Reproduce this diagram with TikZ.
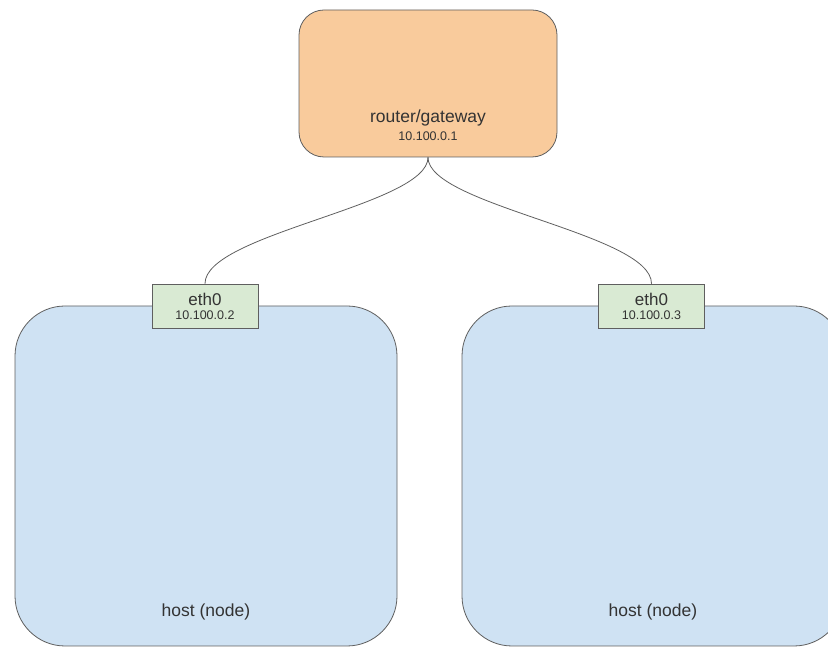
\documentclass[tikz,border=0pt]{standalone}
\usepackage{fontspec}
\setmainfont{Liberation Sans}
\usetikzlibrary{positioning, calc}
\definecolor{routerfill}{RGB}{249,203,156}
\definecolor{hostfill}{RGB}{207,226,243}
\definecolor{ifacefill}{RGB}{217,234,211}
\definecolor{edgegray}{RGB}{95,95,95}
\definecolor{textgray}{RGB}{51,51,51}

\begin{document}
\begin{tikzpicture}[x=1pt, y=1pt, line cap=round,
    hostbox/.style={draw=edgegray, fill=hostfill, line width=0.8pt, rounded corners=50pt,
        minimum width=382pt, minimum height=340pt, inner sep=0pt},
    ifacebox/.style={draw=edgegray, fill=ifacefill, line width=0.8pt, align=center,
        minimum width=106pt, minimum height=44pt, inner sep=0pt, text=textgray,
        font=\fontsize{17pt}{17pt}\selectfont},
    biglabel/.style={text=textgray, inner sep=0pt, font=\fontsize{17.5pt}{18pt}\selectfont},
    smalllabel/.style={text=textgray, inner sep=0pt, font=\fontsize{12.5pt}{13pt}\selectfont}]
        %\draw [step=10, very thin, lightgray] (0, 0) grid (828,647);
        \useasboundingbox (0, 0) rectangle (828, 647);
        \clip (0, 0) rectangle (828, 647);
        \node [draw=edgegray, fill=routerfill, line width=0.8pt, rounded corners=25pt,
            minimum width=258pt, minimum height=147pt] (router) at (428, 563.5) {};
        \node [biglabel] (routername) at (428, 529) {router/gateway};
        \node [smalllabel, below=5pt of routername] (routerip) {10.100.0.1};

        \node [hostbox] (hostA) at (206, 171) {};
        \node [hostbox] (hostB) at (653, 171) {};
        \node [biglabel] (hostAname) at (206, 35) {host (node)};
        \node [biglabel] (hostBname) at (653, 35) {host (node)};

        \node [ifacebox] (ethA) at (205, 341) {eth0\\[-3pt]{\fontsize{12.5pt}{13pt}\selectfont 10.100.0.2}};
        \node [ifacebox] (ethB) at (651.5, 341) {eth0\\[-3pt]{\fontsize{12.5pt}{13pt}\selectfont 10.100.0.3}};

        \draw [edgegray, line width=0.8pt] (router.south) .. controls +(0, -48) and +(0, 50) .. (ethA.north);
        \draw [edgegray, line width=0.8pt] (router.south) .. controls +(0, -48) and +(0, 50) .. (ethB.north);
    \end{tikzpicture}
\end{document}
